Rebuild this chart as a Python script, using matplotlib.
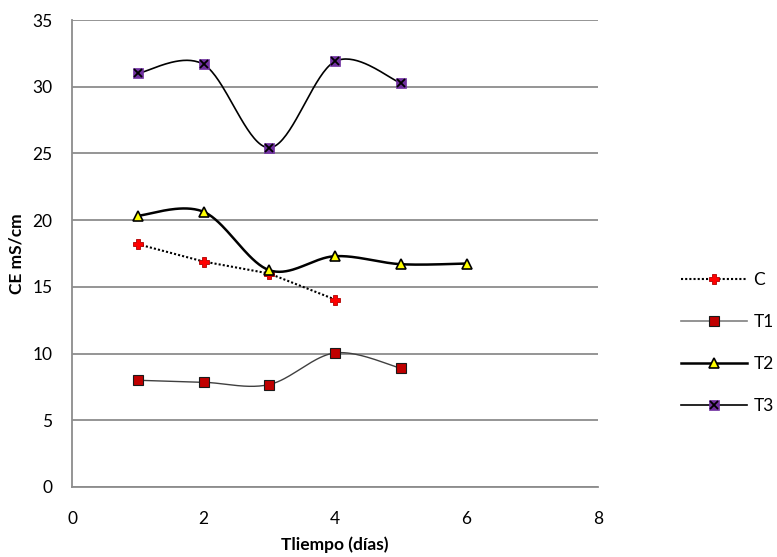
import numpy as np
import matplotlib
matplotlib.use("Agg")
import matplotlib.pyplot as plt
from matplotlib.legend_handler import HandlerTuple

plt.rcParams['font.family'] = ['Lato', 'DejaVu Sans']

# Conductividad eléctrica por tratamiento
dias_c = [1, 2, 3, 4]
ce_c = [18.2, 16.9, 16.0, 14.05]

dias_t1 = [1, 2, 3, 4, 5]
ce_t1 = [8.0, 7.85, 7.68, 10.05, 8.9]

dias_t2 = [1, 2, 3, 4, 5, 6]
ce_t2 = [20.33, 20.63, 16.25, 17.3, 16.7, 16.75]

dias_t3 = [1, 2, 3, 4, 5]
ce_t3 = [31.0, 31.68, 25.43, 31.9, 30.28]

x_ticks = [0, 2, 4, 6, 8]
y_ticks = [0, 5, 10, 15, 20, 25, 30, 35]


def suavizar(x, y, n=40):
    """Curva suavizada con segmentos Bezier (estilo Catmull-Rom)."""
    p = np.column_stack([x, y]).astype(float)
    ext = np.vstack([p[0], p, p[-1]])
    t = np.linspace(0, 1, n)[:, None]
    out = []
    for i in range(len(p) - 1):
        p0, p1, p2, p3 = ext[i], ext[i + 1], ext[i + 2], ext[i + 3]
        c1 = p1 + (p2 - p0) / 6.0
        c2 = p2 - (p3 - p1) / 6.0
        seg = ((1 - t) ** 3) * p1 + 3 * ((1 - t) ** 2) * t * c1 \
            + 3 * (1 - t) * t ** 2 * c2 + t ** 3 * p2
        out.append(seg if i == 0 else seg[1:])
    s = np.vstack(out)
    return s[:, 0], s[:, 1]


fig = plt.figure(figsize=(7.77, 5.57), dpi=100)
ax = fig.add_axes([0.0927, 0.1257, 0.677, 0.8383])

grid_col = '#8c8c8c'
fs = 12.5
ax.set_xlim(0, 8)
ax.set_ylim(0, 35)
ax.set_xticks(x_ticks)
ax.set_yticks(y_ticks)
ax.yaxis.grid(True, color=grid_col, linewidth=1.3)
ax.set_axisbelow(True)
for side in ('top', 'right'):
    ax.spines[side].set_visible(False)
for side in ('left', 'bottom'):
    ax.spines[side].set_color(grid_col)
    ax.spines[side].set_linewidth(1.3)
ax.tick_params(length=0, labelsize=fs)
ax.tick_params(axis='y', pad=14)
ax.tick_params(axis='x', pad=17)

# C: línea punteada recta
ax.plot(dias_c, ce_c, linestyle=(0, (1, 1)), color='black', linewidth=1.5,
        marker='P', markersize=6.5, markerfacecolor='#ff0000',
        markeredgecolor='#b00000', markeredgewidth=0.6, zorder=3)

# T1
x1, y1 = suavizar(dias_t1, ce_t1)
ax.plot(x1, y1, color='#404040', linewidth=1.0, zorder=3)
ax.plot(dias_t1, ce_t1, linestyle='none', marker='s', markersize=7,
        markerfacecolor='#c00000', markeredgecolor='#1a1a1a',
        markeredgewidth=0.8, zorder=4)

# T2
x2, y2 = suavizar(dias_t2, ce_t2)
ax.plot(x2, y2, color='black', linewidth=1.8, zorder=3)
ax.plot(dias_t2, ce_t2, linestyle='none', marker='^', markersize=7,
        markerfacecolor='#ffff00', markeredgecolor='black',
        markeredgewidth=1.2, zorder=4)

# T3
x3, y3 = suavizar(dias_t3, ce_t3)
ax.plot(x3, y3, color='black', linewidth=1.2, zorder=3)
ax.plot(dias_t3, ce_t3, linestyle='none', marker='s', markersize=7,
        markerfacecolor='#7030a0', markeredgecolor='#7030a0',
        markeredgewidth=0.5, zorder=4)
ax.plot(dias_t3, ce_t3, linestyle='none', marker='x', markersize=6,
        color='black', markeredgewidth=1.3, zorder=5)

ax.set_xlabel('Tliempo (días)', fontsize=fs, fontweight='bold', labelpad=7)
ax.set_ylabel('CE mS/cm', fontsize=fs, fontweight='bold', labelpad=6)

# Manejadores de leyenda
h_c = plt.Line2D([], [], linestyle=(0, (1, 1)), color='black', linewidth=1.5,
                 marker='P', markersize=6.5, markerfacecolor='#ff0000',
                 markeredgecolor='#b00000', markeredgewidth=0.6)
h_t1 = plt.Line2D([], [], color='#808080', linewidth=1.2, marker='s',
                  markersize=7, markerfacecolor='#c00000',
                  markeredgecolor='#1a1a1a', markeredgewidth=0.8)
h_t2 = plt.Line2D([], [], color='black', linewidth=1.8, marker='^',
                  markersize=7, markerfacecolor='#ffff00',
                  markeredgecolor='black', markeredgewidth=1.2)
h_t3a = plt.Line2D([], [], color='black', linewidth=1.2, marker='s',
                   markersize=7, markerfacecolor='#7030a0',
                   markeredgecolor='#7030a0', markeredgewidth=0.5)
h_t3b = plt.Line2D([], [], linestyle='none', marker='x', markersize=6,
                   color='black', markeredgewidth=1.3)

fig.legend([h_c, h_t1, h_t2, (h_t3a, h_t3b)], ['C', 'T1', 'T2', 'T3'],
           handler_map={tuple: HandlerTuple(ndivide=1, pad=0)},
           loc='center left', bbox_to_anchor=(0.868, 0.384),
           frameon=False, fontsize=fs, handlelength=3.8,
           labelspacing=1.5, handletextpad=0.35, borderaxespad=0)

fig.savefig('out.png', dpi=100)
